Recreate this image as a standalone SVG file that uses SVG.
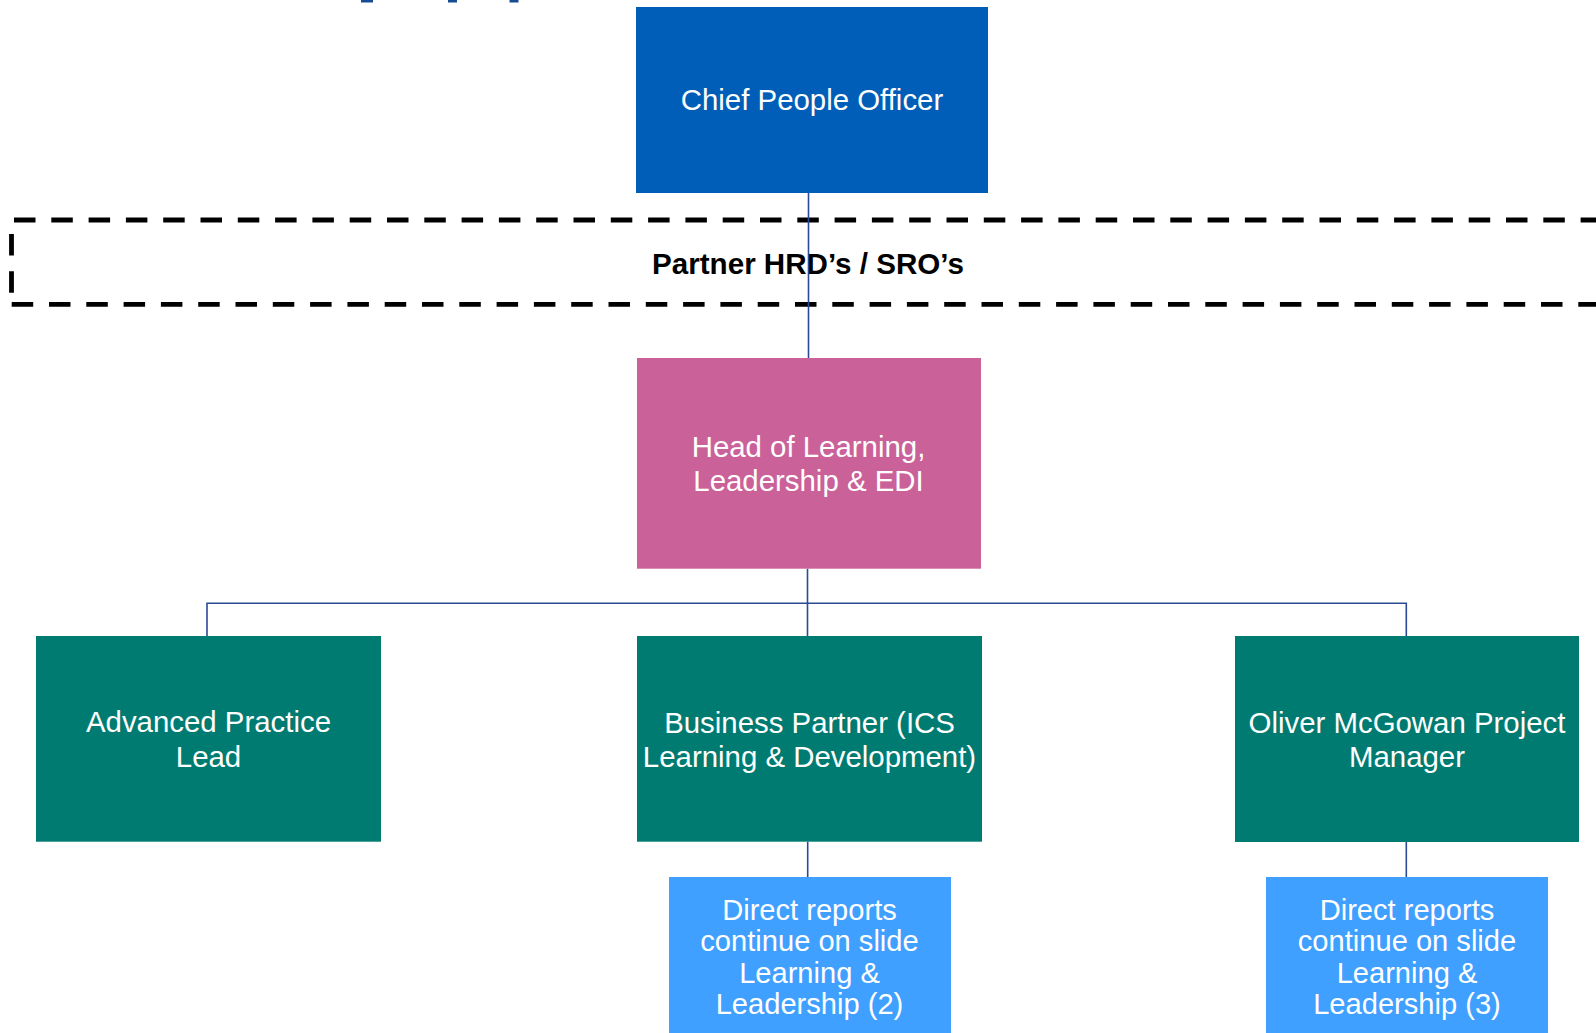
<svg xmlns="http://www.w3.org/2000/svg" width="1596" height="1033" viewBox="0 0 1596 1033">
  <style>
    .lbl { font-family: "Liberation Sans", Arial, sans-serif; font-size: 29.4px; fill: #ffffff; text-anchor: middle; }
    .sm { font-size: 29.1px; }
    .band { font-family: "Liberation Sans", Arial, sans-serif; font-size: 29.6px; font-weight: bold; fill: #000000; text-anchor: middle; }
    .conn { stroke: #2B4A96; stroke-width: 1.6; fill: none; }
    .dash { stroke: #000000; stroke-width: 4.8; stroke-dasharray: 21.5 15.8; fill: none; }
    .frag { fill: #174C95; }
  </style>
  <rect width="1596" height="1033" fill="#ffffff"/>

  <!-- cut-off title fragments at top edge -->
  <g id="title-fragments">
    <rect class="frag" x="361" y="0" width="12" height="2.5"/>
    <rect class="frag" x="448" y="0" width="9" height="2.5"/>
    <rect class="frag" x="509.5" y="0" width="9" height="2.5"/>
  </g>

  <!-- dashed band -->
  <g id="partner-band">
    <line class="dash" x1="14" y1="220" x2="1596" y2="220"/>
    <line class="dash" x1="11.7" y1="304.3" x2="1596" y2="304.3"/>
    <line class="dash" x1="11.5" y1="234" x2="11.5" y2="300"/>
    <text class="band" x="808" y="273.5">Partner HRD’s / SRO’s</text>
  </g>

  <!-- connectors -->
  <g id="connectors">
    <line class="conn" x1="808.5" y1="193" x2="808.5" y2="358"/>
    <line class="conn" x1="807.5" y1="568.7" x2="807.5" y2="636"/>
    <polyline class="conn" points="207,636 207,603.3 1406.3,603.3 1406.3,636"/>
    <line class="conn" x1="807.7" y1="841.7" x2="807.7" y2="877"/>
    <line class="conn" x1="1406.3" y1="842" x2="1406.3" y2="877"/>
  </g>

  <g id="chief-people-officer">
    <rect x="636" y="7" width="352" height="186" fill="#005EB8"/>
    <text class="lbl" x="812" y="110">Chief People Officer</text>
  </g>

  <g id="head-of-learning">
    <rect x="637" y="358" width="344" height="210.7" fill="#CA6199"/>
    <text class="lbl" x="808.5" y="456.7">Head of Learning,</text>
    <text class="lbl" x="808.5" y="491">Leadership &amp; EDI</text>
  </g>

  <g id="advanced-practice-lead">
    <rect x="36" y="636" width="345" height="205.7" fill="#007B71"/>
    <text class="lbl" x="208.5" y="732">Advanced Practice</text>
    <text class="lbl" x="208.5" y="767.3">Lead</text>
  </g>

  <g id="business-partner">
    <rect x="637" y="636" width="345" height="205.7" fill="#007B71"/>
    <text class="lbl" x="809.5" y="732.7">Business Partner (ICS</text>
    <text class="lbl" x="809.5" y="767.3">Learning &amp; Development)</text>
  </g>

  <g id="oliver-mcgowan-pm">
    <rect x="1235" y="636" width="344" height="206" fill="#007B71"/>
    <text class="lbl" x="1407" y="732.5">Oliver McGowan Project</text>
    <text class="lbl" x="1407" y="767.3">Manager</text>
  </g>

  <g id="direct-reports-2">
    <rect x="669" y="877" width="282" height="156" fill="#3FA0FF"/>
    <text class="lbl sm" x="809.5" y="920">Direct reports</text>
    <text class="lbl sm" x="809.5" y="951">continue on slide</text>
    <text class="lbl sm" x="809.5" y="982.7">Learning &amp;</text>
    <text class="lbl sm" x="809.5" y="1014">Leadership (2)</text>
  </g>

  <g id="direct-reports-3">
    <rect x="1266" y="877" width="282" height="156" fill="#3FA0FF"/>
    <text class="lbl sm" x="1407" y="920">Direct reports</text>
    <text class="lbl sm" x="1407" y="951">continue on slide</text>
    <text class="lbl sm" x="1407" y="982.7">Learning &amp;</text>
    <text class="lbl sm" x="1407" y="1014">Leadership (3)</text>
  </g>
</svg>
